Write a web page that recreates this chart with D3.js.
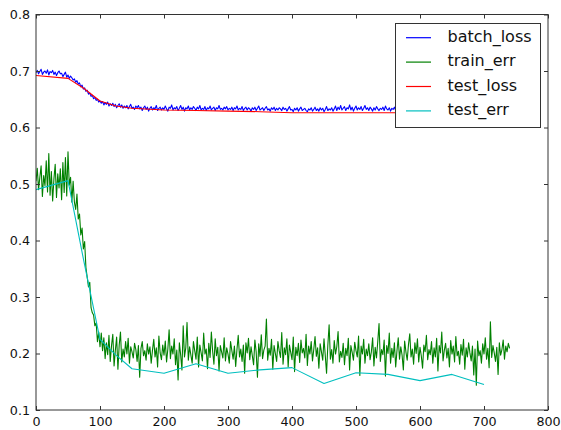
<!DOCTYPE html>
<html>
<head>
<meta charset="utf-8">
<script src="https://cdn.jsdelivr.net/npm/d3@7"></script>
<style>
  html, body { margin: 0; padding: 0; background: #fff; }
  svg { display: block; }
  text { font-family: "DejaVu Sans", sans-serif; fill: #111; }
</style>
</head>
<body>
<svg id="chart" width="561" height="430"></svg>
<script>
// Iteration sampling of the per-batch logs (one record every 2 iterations)
const batchStepStart = 0;
const batchStepStride = 2;

// Mini-batch loss, iterations 0..740
const batchLoss = [
  0.697, 0.701, 0.695, 0.699, 0.703, 0.694, 0.698, 0.700, 0.696, 0.702,
  0.693, 0.699, 0.697, 0.701, 0.694, 0.698, 0.692, 0.697, 0.700, 0.695,
  0.696, 0.690, 0.694, 0.698, 0.689, 0.693, 0.687, 0.691, 0.688, 0.684,
  0.686, 0.680, 0.683, 0.677, 0.679, 0.672, 0.675, 0.668, 0.670, 0.664,
  0.666, 0.659, 0.661, 0.655, 0.657, 0.651, 0.653, 0.648, 0.650, 0.645,
  0.647, 0.643, 0.646, 0.640, 0.644, 0.641, 0.645, 0.638, 0.642, 0.639,
  0.643, 0.637, 0.641, 0.635, 0.639, 0.642, 0.636, 0.640, 0.634, 0.638,
  0.635, 0.639, 0.633, 0.637, 0.641, 0.634, 0.636, 0.632, 0.638, 0.635,
  0.639, 0.633, 0.636, 0.630, 0.635, 0.638, 0.632, 0.636, 0.629, 0.634,
  0.637, 0.631, 0.635, 0.633, 0.639, 0.630, 0.634, 0.636, 0.631, 0.635,
  0.632, 0.638, 0.633, 0.629, 0.636, 0.634, 0.640, 0.631, 0.635, 0.633,
  0.637, 0.630, 0.634, 0.639, 0.632, 0.636, 0.629, 0.635, 0.633, 0.638,
  0.631, 0.635, 0.632, 0.637, 0.634, 0.630, 0.636, 0.633, 0.639, 0.631,
  0.634, 0.632, 0.637, 0.630, 0.635, 0.633, 0.638, 0.631, 0.634, 0.636,
  0.630, 0.635, 0.633, 0.639, 0.632, 0.634, 0.631, 0.636, 0.633, 0.637,
  0.631, 0.634, 0.632, 0.636, 0.630, 0.635, 0.633, 0.638, 0.631, 0.634,
  0.632, 0.637, 0.630, 0.634, 0.636, 0.631, 0.635, 0.633, 0.629, 0.635,
  0.632, 0.636, 0.630, 0.634, 0.638, 0.631, 0.633, 0.635, 0.630, 0.634,
  0.637, 0.631, 0.633, 0.629, 0.635, 0.632, 0.636, 0.630, 0.634, 0.631,
  0.635, 0.633, 0.630, 0.636, 0.632, 0.634, 0.629, 0.633, 0.637, 0.631,
  0.632, 0.628, 0.634, 0.631, 0.635, 0.629, 0.633, 0.636, 0.630, 0.632,
  0.634, 0.630, 0.628, 0.633, 0.631, 0.635, 0.629, 0.632, 0.636, 0.630,
  0.633, 0.629, 0.635, 0.631, 0.634, 0.628, 0.632, 0.637, 0.630, 0.633,
  0.631, 0.635, 0.629, 0.633, 0.638, 0.630, 0.636, 0.632, 0.639, 0.631,
  0.634, 0.637, 0.630, 0.635, 0.633, 0.640, 0.631, 0.636, 0.629, 0.634,
  0.638, 0.631, 0.635, 0.632, 0.637, 0.630, 0.634, 0.639, 0.632, 0.635,
  0.630, 0.636, 0.633, 0.629, 0.635, 0.631, 0.637, 0.633, 0.630, 0.634,
  0.632, 0.636, 0.630, 0.638, 0.633, 0.631, 0.635, 0.629, 0.634, 0.632,
  0.636, 0.630, 0.633, 0.635, 0.629, 0.634, 0.631, 0.637, 0.630, 0.633,
  0.631, 0.635, 0.629, 0.633, 0.636, 0.630, 0.634, 0.632, 0.628, 0.633,
  0.635, 0.630, 0.632, 0.636, 0.629, 0.634, 0.631, 0.633, 0.637, 0.630,
  0.632, 0.635, 0.629, 0.633, 0.631, 0.636, 0.630, 0.634, 0.628, 0.632,
  0.635, 0.630, 0.633, 0.629, 0.636, 0.631, 0.634, 0.632, 0.630, 0.635,
  0.629, 0.633, 0.636, 0.630, 0.632, 0.635, 0.628, 0.634, 0.631, 0.633,
  0.637, 0.630, 0.632, 0.629, 0.635, 0.631, 0.633, 0.636, 0.630, 0.632,
  0.634, 0.629, 0.633, 0.631, 0.636, 0.630, 0.632, 0.635, 0.629, 0.633,
  0.631, 0.635, 0.630, 0.634, 0.632, 0.628, 0.633, 0.636, 0.630, 0.632,
  0.634
];

// Training error per mini-batch, iterations 0..740
const trainErr = [
  0.505, 0.528, 0.490, 0.512, 0.532, 0.478, 0.515, 0.497, 0.541, 0.486,
  0.554, 0.480, 0.522, 0.470, 0.509, 0.535, 0.476, 0.518, 0.493, 0.527,
  0.472, 0.538, 0.485, 0.547, 0.479, 0.557, 0.498, 0.512, 0.468, 0.505,
  0.468, 0.455, 0.482, 0.438, 0.447, 0.410, 0.422, 0.385, 0.398, 0.352,
  0.335, 0.318, 0.326, 0.281, 0.272, 0.268, 0.249, 0.254, 0.221, 0.238,
  0.212, 0.236, 0.205, 0.228, 0.191, 0.219, 0.198, 0.232, 0.186, 0.214,
  0.234, 0.178, 0.206, 0.229, 0.172, 0.215, 0.238, 0.185, 0.208, 0.194,
  0.221, 0.199, 0.227, 0.183, 0.212, 0.203, 0.192, 0.218, 0.207, 0.186,
  0.214, 0.158, 0.209, 0.221, 0.196, 0.205, 0.188, 0.217, 0.199, 0.212,
  0.183, 0.206, 0.225, 0.194, 0.210, 0.176, 0.231, 0.201, 0.189, 0.215,
  0.197, 0.222, 0.185, 0.208, 0.242, 0.191, 0.213, 0.199, 0.226, 0.180,
  0.206, 0.153, 0.219, 0.198, 0.171, 0.249, 0.194, 0.210, 0.255, 0.188,
  0.212, 0.197, 0.183, 0.221, 0.205, 0.190, 0.229, 0.176, 0.215, 0.201,
  0.187, 0.236, 0.199, 0.208, 0.173, 0.218, 0.193, 0.238, 0.204, 0.181,
  0.226, 0.196, 0.211, 0.169, 0.214, 0.203, 0.192, 0.228, 0.187, 0.210,
  0.199, 0.183, 0.221, 0.205, 0.190, 0.213, 0.177, 0.207, 0.232, 0.194,
  0.208, 0.186, 0.215, 0.165, 0.219, 0.201, 0.227, 0.189, 0.212, 0.196,
  0.180, 0.224, 0.203, 0.158, 0.217, 0.195, 0.233, 0.191, 0.206, 0.213,
  0.261, 0.188, 0.209, 0.197, 0.225, 0.172, 0.214, 0.200, 0.186, 0.221,
  0.205, 0.193, 0.237, 0.181, 0.210, 0.198, 0.226, 0.176, 0.215, 0.202,
  0.189, 0.229, 0.168, 0.211, 0.196, 0.218, 0.184, 0.224, 0.201, 0.209,
  0.192, 0.234, 0.179, 0.213, 0.199, 0.221, 0.187, 0.207, 0.230, 0.195,
  0.210, 0.174, 0.217, 0.203, 0.188, 0.226, 0.196, 0.165, 0.215, 0.251,
  0.190, 0.207, 0.183, 0.223, 0.199, 0.212, 0.239, 0.185, 0.204, 0.193,
  0.218, 0.180, 0.209, 0.196, 0.227, 0.171, 0.214, 0.202, 0.188, 0.220,
  0.205, 0.194, 0.231, 0.161, 0.213, 0.199, 0.225, 0.183, 0.208, 0.196,
  0.217, 0.189, 0.203, 0.228, 0.178, 0.211, 0.192, 0.221, 0.253, 0.186,
  0.207, 0.198, 0.224, 0.160, 0.214, 0.200, 0.236, 0.183, 0.209, 0.193,
  0.219, 0.176, 0.205, 0.228, 0.190, 0.212, 0.197, 0.171, 0.222, 0.203,
  0.188, 0.216, 0.235, 0.194, 0.208, 0.181, 0.219, 0.200, 0.226, 0.185,
  0.211, 0.196, 0.174, 0.215, 0.203, 0.232, 0.189, 0.207, 0.198, 0.221,
  0.183, 0.210, 0.194, 0.227, 0.169, 0.214, 0.201, 0.238, 0.187, 0.206,
  0.218, 0.192, 0.209, 0.176, 0.223, 0.199, 0.213, 0.185, 0.230, 0.196,
  0.204, 0.181, 0.216, 0.197, 0.225, 0.172, 0.210, 0.194, 0.219, 0.201,
  0.187, 0.213, 0.162, 0.208, 0.144, 0.222, 0.196, 0.205, 0.183, 0.217,
  0.199, 0.228, 0.190, 0.209, 0.175, 0.256, 0.193, 0.214, 0.201, 0.186,
  0.211, 0.163, 0.219, 0.197, 0.207, 0.224, 0.190, 0.213, 0.203, 0.218,
  0.209
];

// Evaluation on the held-out set
const testSteps = [0, 50, 75, 100, 125, 150, 200, 250, 300, 350, 400, 450, 500, 550, 600, 650, 700];
const testLoss  = [0.692, 0.687, 0.669, 0.647, 0.638, 0.634, 0.631, 0.630, 0.629, 0.628, 0.626, 0.626, 0.626, 0.626, 0.626, 0.626, 0.625];
const testErr   = [0.490, 0.506, 0.362, 0.225, 0.197, 0.173, 0.165, 0.182, 0.165, 0.171, 0.175, 0.147, 0.166, 0.163, 0.152, 0.163, 0.145];

// Axis ticks
const xTicks = [0, 100, 200, 300, 400, 500, 600, 700, 800];
const yTicks = [0.1, 0.2, 0.3, 0.4, 0.5, 0.6, 0.7, 0.8];

const seriesNames  = ["batch_loss", "train_err", "test_loss", "test_err"];
const seriesColors = ["#0000ff", "#008000", "#ff0000", "#00bfbf"];

// ---- layout ----
const svg = d3.select("#chart");
const plot = { left: 36, right: 548, top: 14.5, bottom: 410 };

const x = d3.scaleLinear().domain([0, 800]).range([plot.left, plot.right]);
const y = d3.scaleLinear().domain([0.1, 0.8]).range([plot.bottom, plot.top]);

const batchPoints = v => v.map((d, i) => [batchStepStart + i * batchStepStride, d]);
const testPoints  = v => v.map((d, i) => [testSteps[i], d]);

const series = [
  batchPoints(batchLoss),
  batchPoints(trainErr),
  testPoints(testLoss),
  testPoints(testErr)
];

const line = d3.line().x(d => x(d[0])).y(d => y(d[1]));

svg.append("defs").append("clipPath").attr("id", "plot-clip")
  .append("rect")
  .attr("x", plot.left).attr("y", plot.top)
  .attr("width", plot.right - plot.left).attr("height", plot.bottom - plot.top);

const lines = svg.append("g").attr("clip-path", "url(#plot-clip)");
series.forEach((pts, i) => {
  lines.append("path")
    .datum(pts)
    .attr("d", line)
    .attr("fill", "none")
    .attr("stroke", seriesColors[i])
    .attr("stroke-width", 1.1)
    .attr("stroke-linejoin", "round");
});

// ---- axes: ticks point inward on all four sides ----
const tickLen = 4;
const fontSize = 12.7;

function styleAxis(g) {
  g.select(".domain").remove();
  g.selectAll(".tick line").attr("stroke", "#333").attr("stroke-width", 1);
  g.selectAll(".tick text").style("font-size", fontSize + "px")
    .style("font-family", "'DejaVu Sans', sans-serif").attr("fill", "#111");
}

svg.append("g")
  .attr("transform", `translate(0,${plot.bottom})`)
  .call(d3.axisBottom(x).tickValues(xTicks).tickSize(-tickLen).tickPadding(7).tickFormat(d3.format("d")))
  .call(styleAxis);

svg.append("g")
  .attr("transform", `translate(0,${plot.top})`)
  .call(d3.axisTop(x).tickValues(xTicks).tickSize(-tickLen).tickFormat(""))
  .call(styleAxis);

svg.append("g")
  .attr("transform", `translate(${plot.left},0)`)
  .call(d3.axisLeft(y).tickValues(yTicks).tickSize(-tickLen).tickPadding(6).tickFormat(d3.format(".1f")))
  .call(styleAxis);

svg.append("g")
  .attr("transform", `translate(${plot.right},0)`)
  .call(d3.axisRight(y).tickValues(yTicks).tickSize(-tickLen).tickFormat(""))
  .call(styleAxis);

// plot frame
svg.append("rect")
  .attr("x", plot.left).attr("y", plot.top)
  .attr("width", plot.right - plot.left).attr("height", plot.bottom - plot.top)
  .attr("fill", "none").attr("stroke", "#333").attr("stroke-width", 1);

// ---- legend (upper right) ----
const legend = svg.append("g").attr("transform", "translate(395.5,23.5)");
legend.append("rect")
  .attr("width", 145).attr("height", 104)
  .attr("fill", "#fff").attr("stroke", "#333").attr("stroke-width", 1);

seriesNames.forEach((name, i) => {
  const ry = 14.2 + i * 24.4;
  legend.append("line")
    .attr("x1", 10.5).attr("x2", 35.5).attr("y1", ry).attr("y2", ry)
    .attr("stroke", seriesColors[i]).attr("stroke-width", 1.2);
  legend.append("text")
    .attr("x", 52).attr("y", ry + 4.2)
    .style("font-size", "16px")
    .text(name);
});
</script>
</body>
</html>
